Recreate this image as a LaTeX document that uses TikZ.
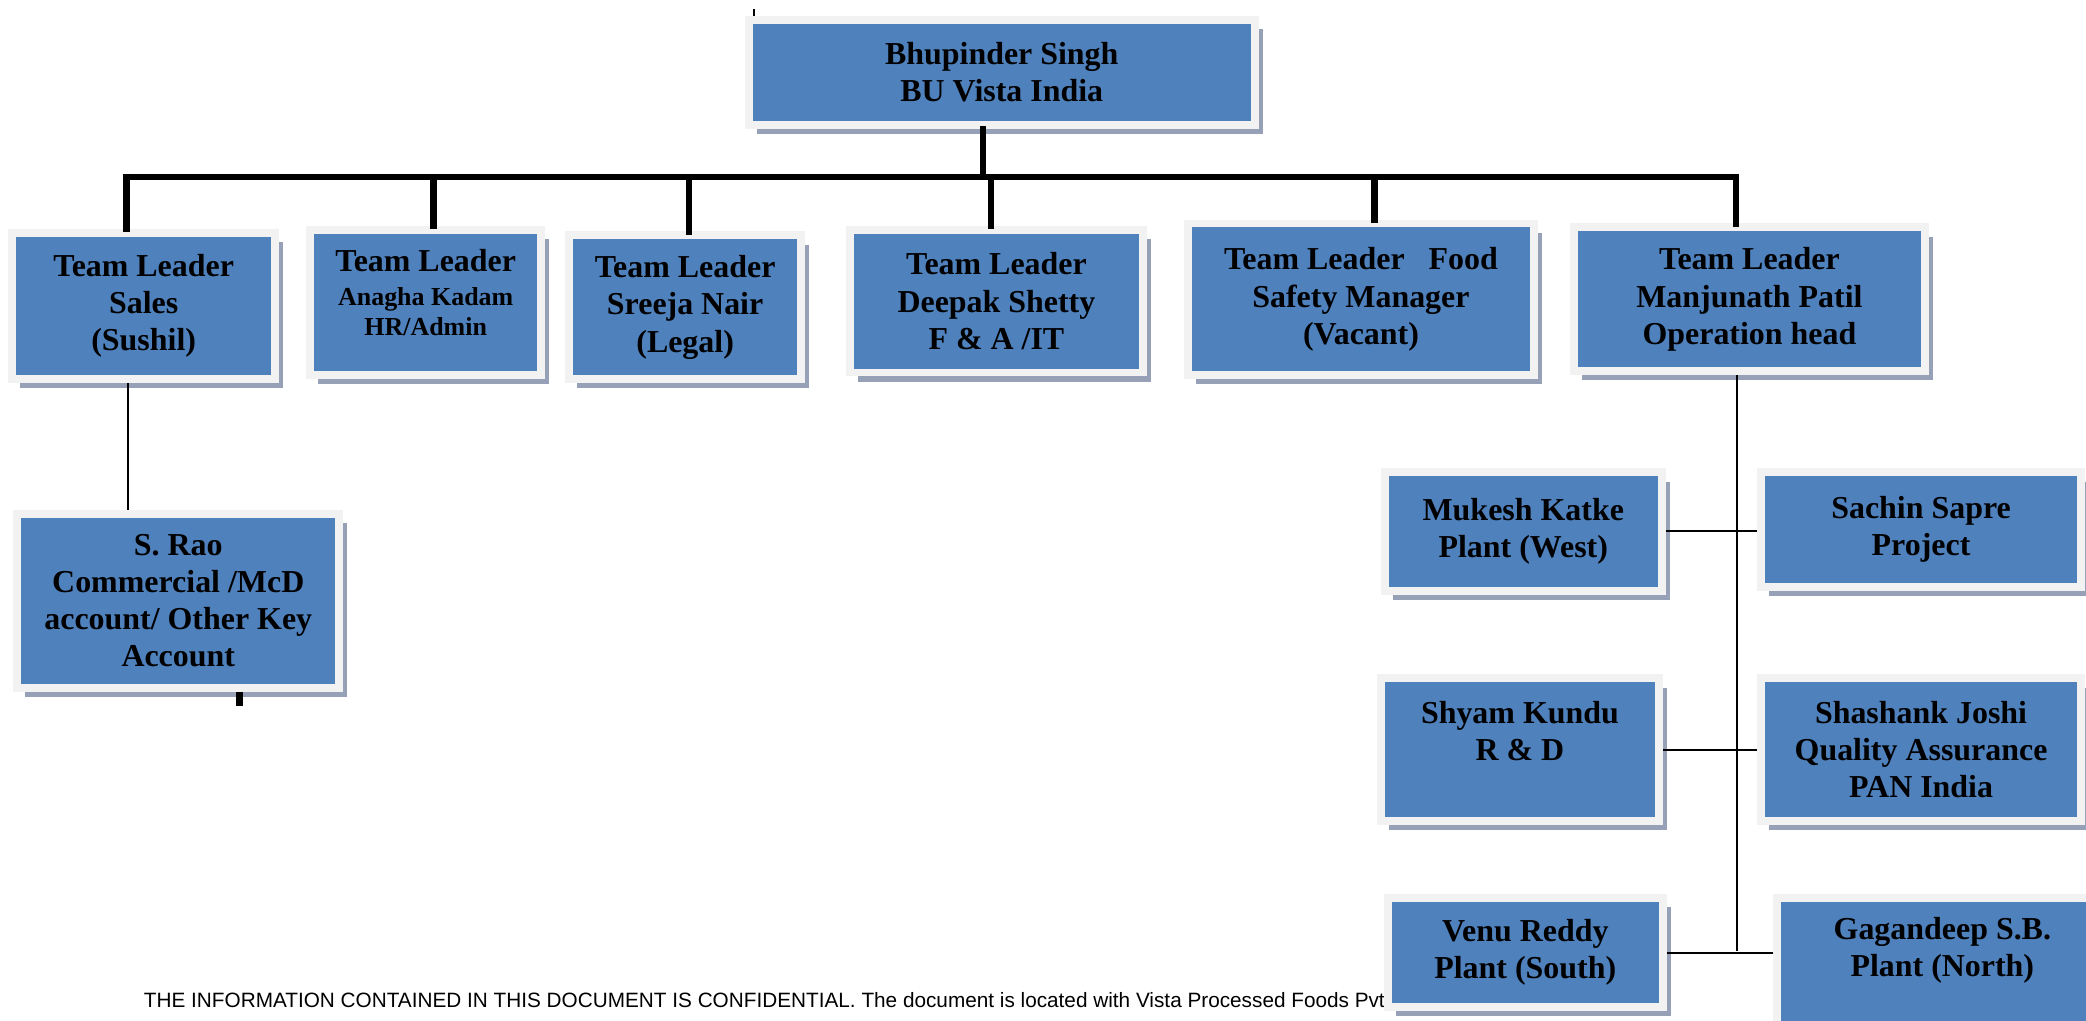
\documentclass[tikz,border=0pt]{standalone}
\usepackage{fontspec}
\setmainfont{Liberation Serif}
\newfontfamily\notefont{Liberation Sans}
\usetikzlibrary{shadows}
\definecolor{boxblue}{HTML}{4F81BD}
\definecolor{framegray}{HTML}{F2F2F2}
\definecolor{shadowgray}{RGB}{150,160,182}

\begin{document}
\begin{tikzpicture}[x=1pt, y=-1pt,
    orgbox/.style={draw=framegray, line width=6pt, fill=boxblue, inner sep=0pt,
      align=center, font=\bfseries\fontsize{24}{28}\selectfont,
      drop shadow={shadow xshift=6pt, shadow yshift=-7pt, fill=shadowgray, opacity=1}},
    busline/.style={line width=5pt, line cap=rect},
    tieline/.style={line width=1.5pt}]

    % Fix the page
    \useasboundingbox (0,0) rectangle (1568,767);
    \clip (0,0) rectangle (1568,767);

    % Draw the footer note
    \node[anchor=base west, inner sep=0pt, font=\notefont\fontsize{15.6}{18}\selectfont] (note) at (108,757)
      {THE INFORMATION CONTAINED IN THIS DOCUMENT IS CONFIDENTIAL. The document is located with Vista Processed Foods Pvt};

    % Draw the head
    \node[orgbox, minimum width=380pt, minimum height=79pt] (top) at (753,54.5) {Bhupinder Singh\\BU Vista India};

    % Draw the team leaders
    \node[orgbox, minimum width=198pt, minimum height=110pt] (sales) at (108,230) {Team Leader\\Sales\\(Sushil)};
    \node[orgbox, minimum width=174pt, minimum height=109pt] (anagha) at (320,227.5)
      {Team Leader\\[-2pt]\fontsize{19.5}{22}\selectfont Anagha Kadam\\[-6pt]\fontsize{19.5}{22}\selectfont HR/Admin\\[-12pt]~};
    \node[orgbox, minimum width=174pt, minimum height=108pt] (sreeja) at (515,231) {Team Leader\\Sreeja Nair\\(Legal)};
    \node[orgbox, minimum width=220pt, minimum height=107pt] (deepak) at (749,226.5) {Team Leader\\Deepak Shetty\\F \& A /IT};
    \node[orgbox, minimum width=260pt, minimum height=114pt] (food) at (1023,225) {Team Leader\ \ \ Food\\Safety Manager\\(Vacant)};
    \node[orgbox, minimum width=264pt, minimum height=108pt] (manjunath) at (1315,225) {Team Leader\\Manjunath Patil\\Operation head};

    % Draw the sales team
    \node[orgbox, minimum width=242pt, minimum height=131pt] (srao) at (134,451.5)
      {S. Rao\\Commercial /McD\\account/ Other Key\\Account};

    % Draw the operations team
    \node[orgbox, minimum width=208pt, minimum height=89pt] (mukesh) at (1145,399.5) {Mukesh Katke\\Plant (West)};
    \node[orgbox, minimum width=240pt, minimum height=86pt] (sachin) at (1444,398) {Sachin Sapre\\Project};
    \node[orgbox, minimum width=209pt, minimum height=107pt] (shyam) at (1142.5,563.5) {Shyam Kundu\\R \& D\\~};
    \node[orgbox, minimum width=240pt, minimum height=107pt] (shashank) at (1444,563.5) {Shashank Joshi\\Quality Assurance\\PAN India};
    \node[orgbox, minimum width=207pt, minimum height=82pt] (venu) at (1146.5,716) {Venu Reddy\\Plant (South)};
    \node[orgbox, minimum width=248pt, minimum height=102pt] (gagandeep) at (1460,726) {Gagandeep S.B.\\Plant (North)\\~};

    % Draw the bus
    \coordinate (bus west) at (95,133);
    \coordinate (bus east) at (1305,133);
    \draw[busline] (bus west) -- (bus east);
    \draw[busline] ([xshift=-14pt]top.south) -- ([xshift=-14pt]top.south |- bus west);
    \draw[busline] ([xshift=-13pt]sales.north) -- ([xshift=-13pt]sales.north |- bus west);
    \draw[busline] ([xshift=6pt]anagha.north) -- ([xshift=6pt]anagha.north |- bus west);
    \draw[busline] ([xshift=3pt]sreeja.north) -- ([xshift=3pt]sreeja.north |- bus west);
    \draw[busline] ([xshift=-4pt]deepak.north) -- ([xshift=-4pt]deepak.north |- bus west);
    \draw[busline] ([xshift=10pt]food.north) -- ([xshift=10pt]food.north |- bus west);
    \draw[busline] ([xshift=-10pt]manjunath.north) -- ([xshift=-10pt]manjunath.north |- bus west);

    % Draw the thin ties
    \draw[tieline] ([xshift=-12pt]sales.south) -- ([xshift=-12pt]sales.south |- srao.north);
    \coordinate (spine end) at (1306,715);
    \draw[tieline] ([xshift=-9pt]manjunath.south) -- (spine end);
    \draw[tieline] (mukesh.east) -- (mukesh.east -| sachin.west);
    \draw[tieline] (shyam.east) -- (shashank.west);
    \draw[tieline] (venu.east) -- (venu.east -| gagandeep.west);

    % Add the stray marks
    \coordinate (rao stub) at (180,531);
    \draw[busline, line cap=butt] (rao stub |- srao.south) -- (rao stub);
    \coordinate (top tick) at (567,7);
    \draw[tieline] (top tick) -- (top tick |- top.north);

\end{tikzpicture}
\end{document}
